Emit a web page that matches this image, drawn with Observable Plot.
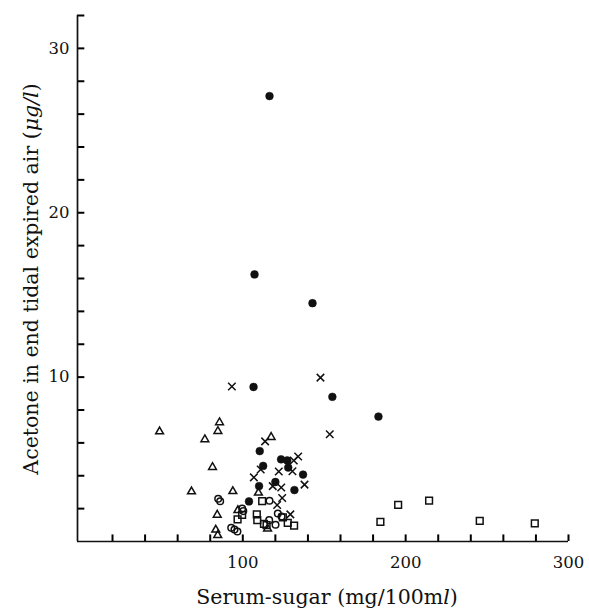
<!DOCTYPE html>
<html><head><meta charset="utf-8">
<script src="https://cdn.jsdelivr.net/npm/d3@7"></script>
<script src="https://cdn.jsdelivr.net/npm/@observablehq/plot@0.6"></script>
<style>body{margin:0;background:#fff} svg{display:block}</style>
</head><body><div id="chart"></div>
<script>
// [serum-sugar mg/100ml, acetone µg/l]
const filledCircles = [[116.4,27.1],[107.2,16.25],[142.8,14.5],[106.6,9.4],[155,8.8],[183.3,7.6],[110.4,5.5],[112.5,4.6],[123.5,5.0],[127.3,4.93],[127.9,4.5],[137,4.07],[120,3.62],[110,3.37],[131.7,3.13],[103.8,2.44]];
const crosses = [[93.3,9.43],[147.7,9.97],[153.4,6.53],[113.7,6.09],[111,4.38],[106.8,3.9],[122.1,4.26],[130.5,4.27],[131.3,4.93],[134,5.17],[137.9,3.46],[118.4,3.37],[123.6,3.29],[124.2,2.65],[121.1,2.22],[129.2,1.65]];
const triangles = [[48.9,6.69],[85.7,7.24],[84.7,6.71],[76.7,6.21],[81.4,4.52],[68.5,3.04],[93.9,3.05],[117.4,6.35],[109.6,2.96],[84.3,1.62],[83.4,0.71],[84.6,0.38],[97,1.9],[115.2,0.78]];
const openCircles = [[84.9,2.6],[86.1,2.45],[99.6,2.0],[100.3,1.85],[92.9,0.83],[94.9,0.73],[96.7,0.61],[116.4,2.48],[121.5,1.7],[123.8,1.52],[116.2,1.3],[120.1,1.02]];
const squares = [[111.9,2.45],[99.6,1.62],[96.8,1.35],[108.6,1.65],[108.9,1.3],[113,1.07],[114.6,1.0],[124.6,1.47],[127.6,1.14],[131.5,0.96],[184.5,1.2],[195.4,2.23],[214.4,2.48],[245.5,1.26],[279.3,1.1]];

const xTicks = [20,40,60,80,100,120,140,160,180,200,220,240,260,280,300];
const xTickLabels = [100,200,300];
const yTicks = [2,4,6,8,10,12,14,16,18,20,22,24,26,28,30,32];
const yTickLabels = [10,20,30];
const xDomain = [-1.5, 300];
const yDomain = [0, 32];

const ink = "#111";
const sym = (data, symbol, r, filled) => Plot.dot(data, {
  x: d => d[0], y: d => d[1], symbol, r,
  fill: filled ? ink : "none", stroke: ink, strokeWidth: filled ? 0.5 : 1.5
});

const plot = Plot.plot({
  width: 589, height: 612,
  marginLeft: 77, marginRight: 21, marginTop: 15, marginBottom: 71,
  x: {domain: xDomain},
  y: {domain: yDomain},
  style: {fontFamily: "DejaVu Serif", fontSize: "16px", color: ink, background: "#fff"},
  marks: [
    Plot.axisX({ticks: xTickLabels, tickSize: 0, tickPadding: 15, label: null, fontSize: 16.5}),
    Plot.axisY({ticks: yTickLabels, tickSize: 0, tickPadding: 8, label: null, fontSize: 16.5}),
    Plot.ruleX(xTicks, {x: d => d, y1: d => 0, y2: d => 0.4, stroke: "#000", strokeWidth: 2}),
    Plot.ruleY(yTicks, {y: d => d, x1: d => xDomain[0], x2: d => 3, stroke: "#000", strokeWidth: 2}),
    Plot.ruleY([yDomain[0]], {stroke: ink, strokeWidth: 1.7}),
    Plot.ruleX([xDomain[0]], {stroke: ink, strokeWidth: 1.7}),
    sym(squares, "square", 3.8, false),
    sym(openCircles, "circle", 3.3, false),
    sym(triangles, "triangle", 2.9, false),
    sym(crosses, "times", 3.5, false),
    sym(filledCircles, "circle", 3.9, true)
  ]
});

const svg = d3.select(plot);

const xl = svg.append("text")
  .attr("x", 327).attr("y", 598)
  .attr("text-anchor", "middle").attr("dominant-baseline", "middle")
  .attr("font-family", "DejaVu Serif").attr("font-size", 20.5).attr("fill", ink);
xl.append("tspan").text("Serum-sugar (mg/100m");
xl.append("tspan").attr("font-style", "italic").text("l");
xl.append("tspan").text(")");

const yl = svg.append("text")
  .attr("transform", "translate(32,279) rotate(-90)")
  .attr("text-anchor", "middle").attr("dominant-baseline", "middle")
  .attr("font-family", "DejaVu Serif").attr("font-size", 20.5).attr("fill", ink);
yl.append("tspan").text("Acetone in end tidal expired air (");
yl.append("tspan").attr("font-style", "italic").text("μg/l");
yl.append("tspan").text(")");

document.getElementById("chart").appendChild(plot);
</script>
</body></html>
